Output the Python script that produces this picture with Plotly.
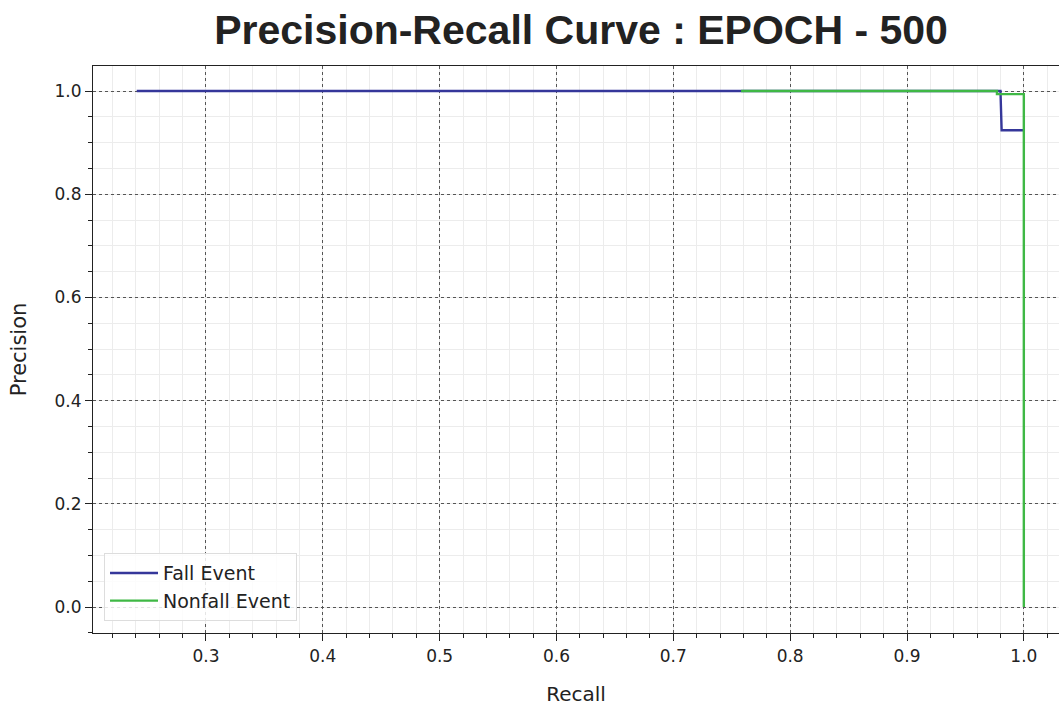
import plotly.graph_objects as go

fall_recall = [0.2407, 0.980, 0.981, 1.0]
fall_precision = [1.0, 1.0, 0.924, 0.924]
nonfall_recall = [0.758, 0.977, 0.977, 1.0, 1.0]
nonfall_precision = [1.0, 1.0, 0.994, 0.994, 0.0]

x_ticks = [0.3, 0.4, 0.5, 0.6, 0.7, 0.8, 0.9, 1.0]
y_ticks = [0.0, 0.2, 0.4, 0.6, 0.8, 1.0]

fig = go.Figure()
fig.add_trace(go.Scatter(x=fall_recall, y=fall_precision, mode="lines", name="Fall Event",
                         line=dict(color="#35379a", width=2.4)))
fig.add_trace(go.Scatter(x=nonfall_recall, y=nonfall_precision, mode="lines", name="Nonfall Event",
                         line=dict(color="#3fb845", width=2.4)))

axis_common = dict(
    showline=True, linecolor="#222", linewidth=1.2,
    ticks="outside", ticklen=7, tickwidth=1.2, tickcolor="#222",
    showgrid=True, gridcolor="#555", gridwidth=1, griddash="dot",
    zeroline=False,
    tickfont=dict(family="DejaVu Sans", size=17, color="#222"),
)

fig.update_xaxes(
    range=[0.2033, 1.0301], tickvals=x_ticks, ticktext=[f"{v:.1f}" for v in x_ticks],
    mirror=True,
    minor=dict(dtick=0.02, tick0=0.2, ticks="outside", ticklen=4, tickwidth=1, tickcolor="#222",
               showgrid=True, gridcolor="#ececec", gridwidth=1, griddash="solid"),
    title=dict(text="Recall", font=dict(family="DejaVu Sans", size=20, color="#222"), standoff=26),
    **axis_common,
)
fig.update_yaxes(
    range=[-0.0504, 1.0485], tickvals=y_ticks, ticktext=[f"{v:.1f}" for v in y_ticks],
    mirror=False,
    minor=dict(dtick=0.05, tick0=0.0, ticks="outside", ticklen=4, tickwidth=1, tickcolor="#222",
               showgrid=True, gridcolor="#ececec", gridwidth=1, griddash="solid"),
    title=dict(text="Precision", font=dict(family="DejaVu Sans", size=21, color="#222"), standoff=22),
    **axis_common,
)

fig.update_layout(
    width=1059, height=706,
    margin=dict(l=93, r=0, t=66, b=73),
    paper_bgcolor="white", plot_bgcolor="white",
    title=dict(text="<b>Precision-Recall Curve : EPOCH - 500</b>",
               font=dict(family="Liberation Sans", size=41, color="#222"),
               x=581 / 1059, xref="container", xanchor="center", y=0.958, yanchor="middle"),
    legend=dict(x=0.0114, y=0.021, xanchor="left", yanchor="bottom",
                bgcolor="rgba(255,255,255,0.85)", bordercolor="#dddddd", borderwidth=1,
                itemwidth=48,
                font=dict(family="DejaVu Sans", size=19, color="#222")),
)

fig.write_html("out.html")
